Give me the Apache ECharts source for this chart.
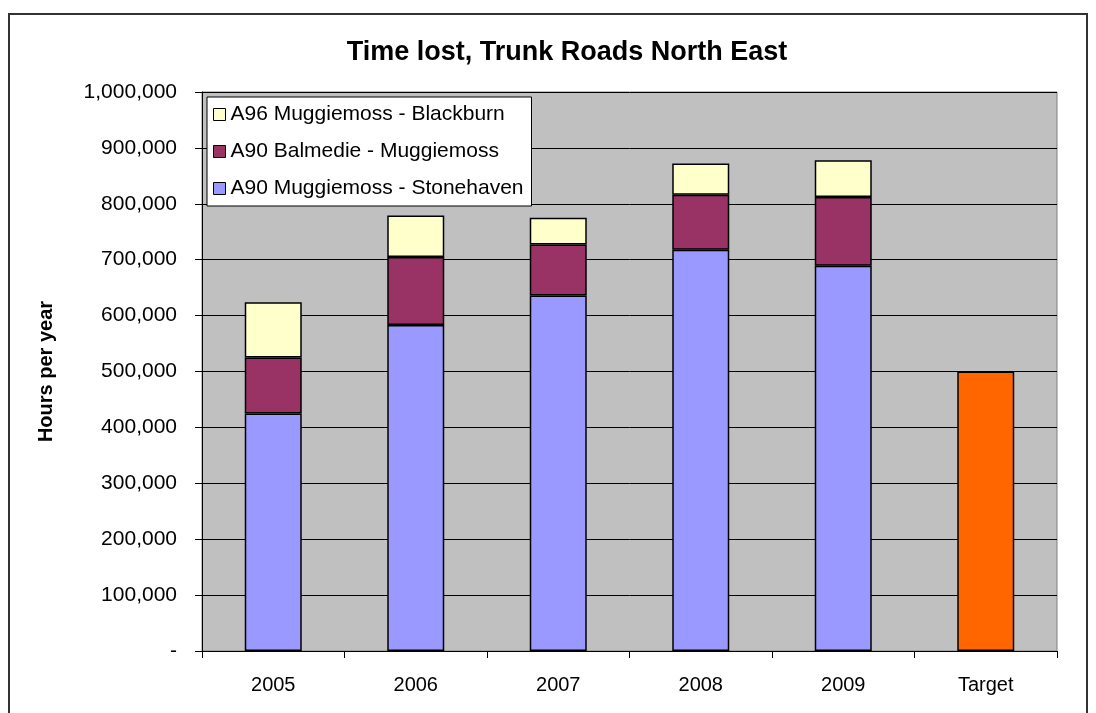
<!DOCTYPE html>
<html>
<head>
<meta charset="utf-8">
<script src="https://cdn.jsdelivr.net/npm/echarts@6/dist/echarts.min.js"></script>
<style>
  html, body { margin: 0; padding: 0; background: #fff; }
  #main { width: 1096px; height: 713px; }
</style>
</head>
<body>
<div id="main"></div>
<script>
var chartDom = document.getElementById('main');
var myChart = echarts.init(chartDom);
var option;

// categories
const years = ['2005', '2006', '2007', '2008', '2009', 'Target'];

// series values (hours per year)
const stonehaven = [425000, 583000, 636000, 718000, 689000, '-'];
const balmedie = [100000, 122000, 91000, 98000, 123000, '-'];
const blackburn = [99000, 74000, 48000, 56000, 66000, '-'];
const target = ['-', '-', '-', '-', '-', 500000];

const font = 'Liberation Sans, Arial, sans-serif';

function barStyle(color) {
  return { color: color, borderColor: '#000', borderWidth: 1.5 };
}

option = {
  animation: false,
  textStyle: { fontFamily: font },
  graphic: [
    {
      type: 'rect',
      shape: { x: 9, y: 14, width: 1078, height: 710 },
      style: { fill: 'none', stroke: '#333', lineWidth: 2 },
      z: -10
    }
  ],
  title: {
    text: 'Time lost, Trunk Roads North East',
    left: 562,
    textAlign: 'center',
    top: 34,
    textStyle: { fontSize: 27, fontWeight: 'bold', color: '#000', fontFamily: font }
  },
  legend: {
    data: ['A96 Muggiemoss - Blackburn', 'A90 Balmedie - Muggiemoss', 'A90 Muggiemoss - Stonehaven'],
    orient: 'vertical',
    left: 207,
    top: 97,
    icon: 'rect',
    itemGap: 16,
    itemWidth: 12,
    itemHeight: 12,
    padding: [7, 8, 7, 6],
    backgroundColor: '#fff',
    borderColor: '#000',
    borderWidth: 1,
    textStyle: { fontSize: 21, color: '#000', fontFamily: font },
    itemStyle: { borderColor: '#000', borderWidth: 1 }
  },
  grid: {
    left: 202,
    right: 39,
    top: 92,
    bottom: 62,
    show: true,
    backgroundColor: '#c0c0c0',
    borderColor: '#808080',
    borderWidth: 1
  },
  xAxis: {
    type: 'category',
    data: years,
    axisLine: { lineStyle: { color: '#000', width: 1 } },
    axisTick: { show: true, length: 7, lineStyle: { color: '#000' } },
    axisLabel: { fontSize: 20, color: '#000', margin: 24, fontFamily: font }
  },
  yAxis: {
    type: 'value',
    min: 0,
    max: 1000000,
    interval: 100000,
    name: 'Hours per year',
    nameLocation: 'middle',
    nameGap: 146,
    nameTextStyle: { fontSize: 20, fontWeight: 'bold', color: '#000', fontFamily: font },
    axisLine: { show: true, lineStyle: { color: '#000', width: 1 } },
    axisTick: { show: true, length: 7, lineStyle: { color: '#000' } },
    splitLine: { show: true, lineStyle: { color: '#000', width: 1 } },
    axisLabel: {
      fontSize: 21,
      color: '#000',
      margin: 25,
      fontFamily: font,
      formatter: function (v) {
        return v === 0 ? '-' : v.toLocaleString('en-US');
      }
    }
  },
  series: [
    {
      name: 'A90 Muggiemoss - Stonehaven',
      type: 'bar',
      stack: 'total',
      barWidth: 57,
      data: stonehaven,
      itemStyle: barStyle('#9999ff')
    },
    {
      name: 'A90 Balmedie - Muggiemoss',
      type: 'bar',
      stack: 'total',
      barWidth: 57,
      data: balmedie,
      itemStyle: barStyle('#993366')
    },
    {
      name: 'A96 Muggiemoss - Blackburn',
      type: 'bar',
      stack: 'total',
      barWidth: 57,
      data: blackburn,
      itemStyle: barStyle('#ffffcc')
    },
    {
      name: 'Target',
      type: 'bar',
      stack: 'total',
      barWidth: 57,
      data: target,
      itemStyle: barStyle('#ff6600')
    }
  ]
};

option && myChart.setOption(option);
</script>
</body>
</html>
